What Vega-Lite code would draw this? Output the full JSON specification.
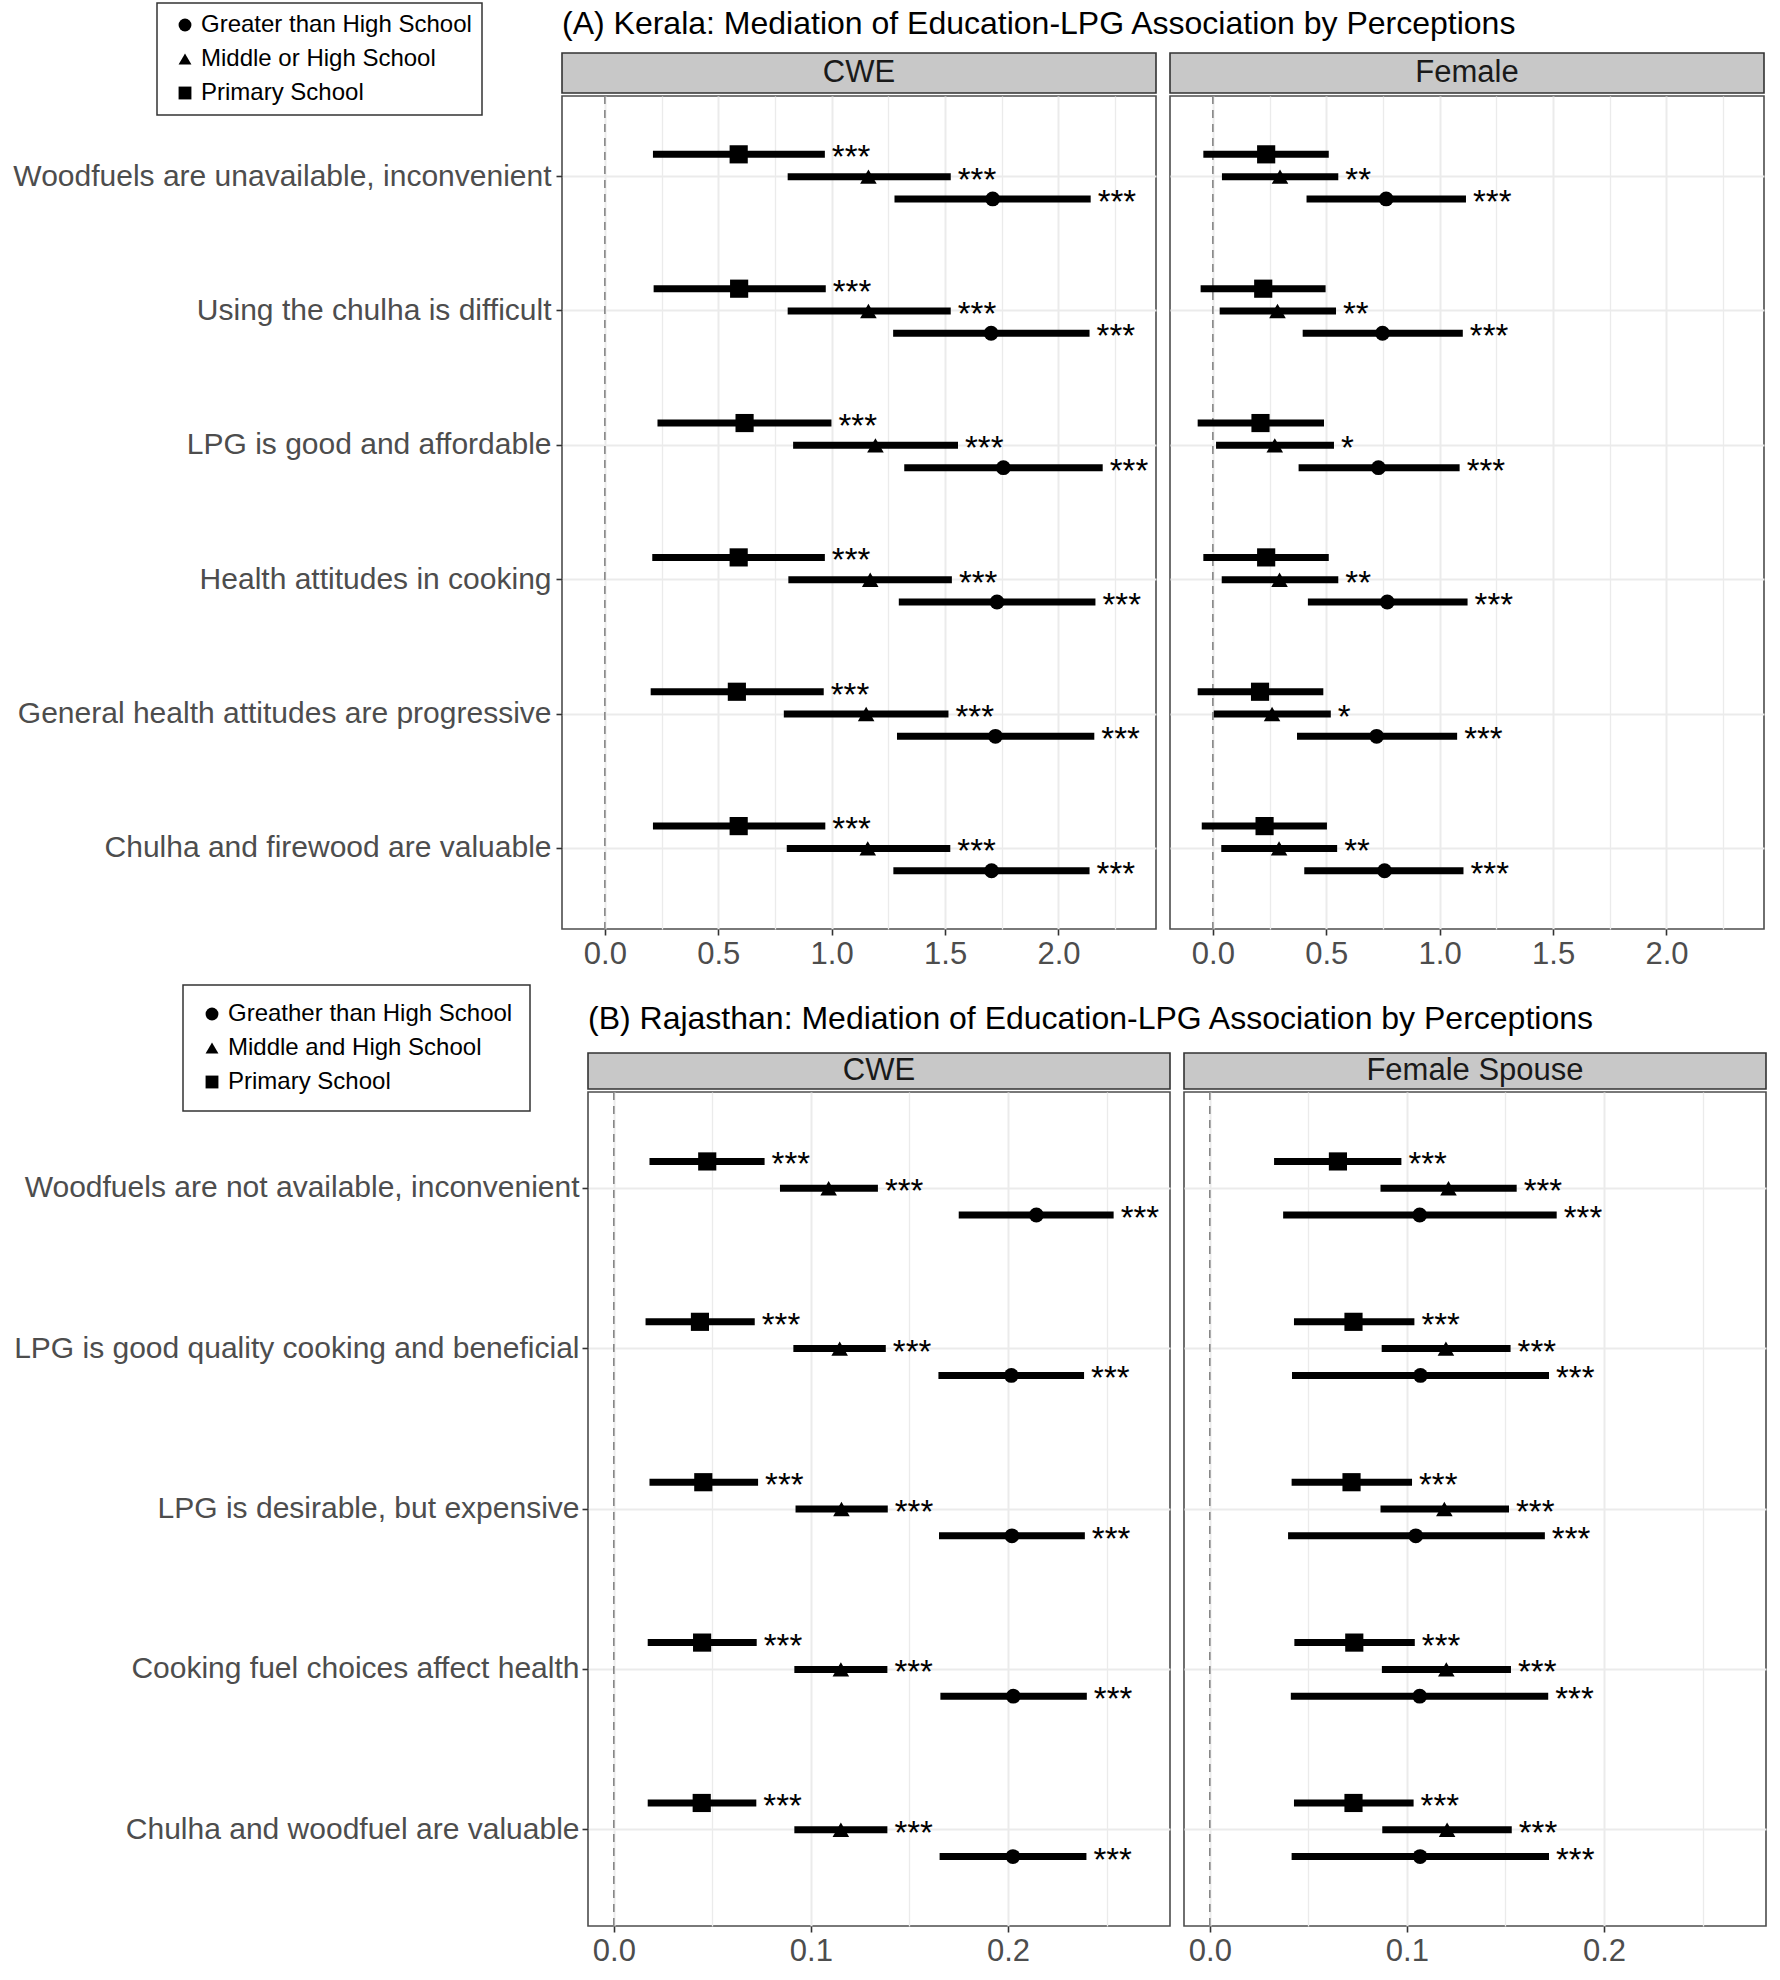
{
  "$schema": "https://vega.github.io/schema/vega-lite/v6.json",
  "background": "white",
  "padding": {"left": 11, "top": 2, "right": 0, "bottom": 0},
  "config": {
    "font": "Liberation Sans",
    "view": {"stroke": "#4D4D4D", "strokeWidth": 1.6},
    "axis": {"labelFont": "Liberation Sans", "labelColor": "#4D4D4D", "tickColor": "#333333", "tickWidth": 1.6, "tickSize": 6, "domain": false, "gridColor": "#EBEBEB", "gridWidth": 2, "labelFlush": false, "labelOverlap": false, "title": null},
    "legend": {"strokeWidth": 1.5, "labelFont": "Liberation Sans"},
    "title": {"font": "Liberation Sans", "fontSize": 32, "fontWeight": "normal", "color": "#000000", "anchor": "start", "frame": "group"}
  },
  "datasets": {
    "strips": [{"panel": "CWE"}, {"panel": "Female"}, {"panel": "Female Spouse"}],
    "zero": [{"z": 0}],
    "kerala": [
      {"panel": "CWE", "perc": "Woodfuels are unavailable, inconvenient", "edu": "Primary School", "est": 0.590, "lo": 0.212, "hi": 0.970, "sig": "***"},
      {"panel": "CWE", "perc": "Woodfuels are unavailable, inconvenient", "edu": "Middle or High School", "est": 1.162, "lo": 0.806, "hi": 1.525, "sig": "***"},
      {"panel": "CWE", "perc": "Woodfuels are unavailable, inconvenient", "edu": "Greater than High School", "est": 1.710, "lo": 1.277, "hi": 2.142, "sig": "***"},
      {"panel": "CWE", "perc": "Using the chulha is difficult", "edu": "Primary School", "est": 0.592, "lo": 0.215, "hi": 0.974, "sig": "***"},
      {"panel": "CWE", "perc": "Using the chulha is difficult", "edu": "Middle or High School", "est": 1.162, "lo": 0.806, "hi": 1.525, "sig": "***"},
      {"panel": "CWE", "perc": "Using the chulha is difficult", "edu": "Greater than High School", "est": 1.703, "lo": 1.271, "hi": 2.137, "sig": "***"},
      {"panel": "CWE", "perc": "LPG is good and affordable", "edu": "Primary School", "est": 0.616, "lo": 0.232, "hi": 0.999, "sig": "***"},
      {"panel": "CWE", "perc": "LPG is good and affordable", "edu": "Middle or High School", "est": 1.193, "lo": 0.830, "hi": 1.557, "sig": "***"},
      {"panel": "CWE", "perc": "LPG is good and affordable", "edu": "Greater than High School", "est": 1.757, "lo": 1.320, "hi": 2.195, "sig": "***"},
      {"panel": "CWE", "perc": "Health attitudes in cooking", "edu": "Primary School", "est": 0.590, "lo": 0.209, "hi": 0.970, "sig": "***"},
      {"panel": "CWE", "perc": "Health attitudes in cooking", "edu": "Middle or High School", "est": 1.170, "lo": 0.809, "hi": 1.530, "sig": "***"},
      {"panel": "CWE", "perc": "Health attitudes in cooking", "edu": "Greater than High School", "est": 1.729, "lo": 1.296, "hi": 2.163, "sig": "***"},
      {"panel": "CWE", "perc": "General health attitudes are progressive", "edu": "Primary School", "est": 0.582, "lo": 0.202, "hi": 0.965, "sig": "***"},
      {"panel": "CWE", "perc": "General health attitudes are progressive", "edu": "Middle or High School", "est": 1.152, "lo": 0.789, "hi": 1.515, "sig": "***"},
      {"panel": "CWE", "perc": "General health attitudes are progressive", "edu": "Greater than High School", "est": 1.722, "lo": 1.288, "hi": 2.158, "sig": "***"},
      {"panel": "CWE", "perc": "Chulha and firewood are valuable", "edu": "Primary School", "est": 0.590, "lo": 0.212, "hi": 0.972, "sig": "***"},
      {"panel": "CWE", "perc": "Chulha and firewood are valuable", "edu": "Middle or High School", "est": 1.159, "lo": 0.802, "hi": 1.523, "sig": "***"},
      {"panel": "CWE", "perc": "Chulha and firewood are valuable", "edu": "Greater than High School", "est": 1.705, "lo": 1.272, "hi": 2.137, "sig": "***"},
      {"panel": "Female", "perc": "Woodfuels are unavailable, inconvenient", "edu": "Primary School", "est": 0.235, "lo": -0.042, "hi": 0.511, "sig": ""},
      {"panel": "Female", "perc": "Woodfuels are unavailable, inconvenient", "edu": "Middle or High School", "est": 0.296, "lo": 0.040, "hi": 0.553, "sig": "**"},
      {"panel": "Female", "perc": "Woodfuels are unavailable, inconvenient", "edu": "Greater than High School", "est": 0.764, "lo": 0.413, "hi": 1.116, "sig": "***"},
      {"panel": "Female", "perc": "Using the chulha is difficult", "edu": "Primary School", "est": 0.222, "lo": -0.054, "hi": 0.497, "sig": ""},
      {"panel": "Female", "perc": "Using the chulha is difficult", "edu": "Middle or High School", "est": 0.285, "lo": 0.030, "hi": 0.543, "sig": "**"},
      {"panel": "Female", "perc": "Using the chulha is difficult", "edu": "Greater than High School", "est": 0.748, "lo": 0.396, "hi": 1.102, "sig": "***"},
      {"panel": "Female", "perc": "LPG is good and affordable", "edu": "Primary School", "est": 0.210, "lo": -0.067, "hi": 0.490, "sig": ""},
      {"panel": "Female", "perc": "LPG is good and affordable", "edu": "Middle or High School", "est": 0.273, "lo": 0.014, "hi": 0.534, "sig": "*"},
      {"panel": "Female", "perc": "LPG is good and affordable", "edu": "Greater than High School", "est": 0.730, "lo": 0.378, "hi": 1.088, "sig": "***"},
      {"panel": "Female", "perc": "Health attitudes in cooking", "edu": "Primary School", "est": 0.235, "lo": -0.042, "hi": 0.511, "sig": ""},
      {"panel": "Female", "perc": "Health attitudes in cooking", "edu": "Middle or High School", "est": 0.294, "lo": 0.039, "hi": 0.553, "sig": "**"},
      {"panel": "Female", "perc": "Health attitudes in cooking", "edu": "Greater than High School", "est": 0.769, "lo": 0.419, "hi": 1.123, "sig": "***"},
      {"panel": "Female", "perc": "General health attitudes are progressive", "edu": "Primary School", "est": 0.208, "lo": -0.067, "hi": 0.487, "sig": ""},
      {"panel": "Female", "perc": "General health attitudes are progressive", "edu": "Middle or High School", "est": 0.261, "lo": 0.004, "hi": 0.520, "sig": "*"},
      {"panel": "Female", "perc": "General health attitudes are progressive", "edu": "Greater than High School", "est": 0.722, "lo": 0.371, "hi": 1.077, "sig": "***"},
      {"panel": "Female", "perc": "Chulha and firewood are valuable", "edu": "Primary School", "est": 0.228, "lo": -0.049, "hi": 0.503, "sig": ""},
      {"panel": "Female", "perc": "Chulha and firewood are valuable", "edu": "Middle or High School", "est": 0.292, "lo": 0.037, "hi": 0.548, "sig": "**"},
      {"panel": "Female", "perc": "Chulha and firewood are valuable", "edu": "Greater than High School", "est": 0.757, "lo": 0.403, "hi": 1.105, "sig": "***"}
    ],
    "rajasthan": [
      {"panel": "CWE", "perc": "Woodfuels are not available, inconvenient", "edu": "Primary School", "est": 0.0474, "lo": 0.0181, "hi": 0.0765, "sig": "***"},
      {"panel": "CWE", "perc": "Woodfuels are not available, inconvenient", "edu": "Middle and High School", "est": 0.109, "lo": 0.0843, "hi": 0.134, "sig": "***"},
      {"panel": "CWE", "perc": "Woodfuels are not available, inconvenient", "edu": "Greather than High School", "est": 0.2144, "lo": 0.175, "hi": 0.2536, "sig": "***"},
      {"panel": "CWE", "perc": "LPG is good quality cooking and beneficial", "edu": "Primary School", "est": 0.0437, "lo": 0.0161, "hi": 0.0715, "sig": "***"},
      {"panel": "CWE", "perc": "LPG is good quality cooking and beneficial", "edu": "Middle and High School", "est": 0.1146, "lo": 0.0911, "hi": 0.138, "sig": "***"},
      {"panel": "CWE", "perc": "LPG is good quality cooking and beneficial", "edu": "Greather than High School", "est": 0.2017, "lo": 0.1647, "hi": 0.2386, "sig": "***"},
      {"panel": "CWE", "perc": "LPG is desirable, but expensive", "edu": "Primary School", "est": 0.0454, "lo": 0.0181, "hi": 0.0732, "sig": "***"},
      {"panel": "CWE", "perc": "LPG is desirable, but expensive", "edu": "Middle and High School", "est": 0.1155, "lo": 0.0922, "hi": 0.139, "sig": "***"},
      {"panel": "CWE", "perc": "LPG is desirable, but expensive", "edu": "Greather than High School", "est": 0.202, "lo": 0.165, "hi": 0.239, "sig": "***"},
      {"panel": "CWE", "perc": "Cooking fuel choices affect health", "edu": "Primary School", "est": 0.0448, "lo": 0.0172, "hi": 0.0725, "sig": "***"},
      {"panel": "CWE", "perc": "Cooking fuel choices affect health", "edu": "Middle and High School", "est": 0.1152, "lo": 0.0916, "hi": 0.1388, "sig": "***"},
      {"panel": "CWE", "perc": "Cooking fuel choices affect health", "edu": "Greather than High School", "est": 0.2027, "lo": 0.1657, "hi": 0.240, "sig": "***"},
      {"panel": "CWE", "perc": "Chulha and woodfuel are valuable", "edu": "Primary School", "est": 0.0446, "lo": 0.0172, "hi": 0.0723, "sig": "***"},
      {"panel": "CWE", "perc": "Chulha and woodfuel are valuable", "edu": "Middle and High School", "est": 0.1152, "lo": 0.0916, "hi": 0.1388, "sig": "***"},
      {"panel": "CWE", "perc": "Chulha and woodfuel are valuable", "edu": "Greather than High School", "est": 0.2025, "lo": 0.1653, "hi": 0.2398, "sig": "***"},
      {"panel": "Female Spouse", "perc": "Woodfuels are not available, inconvenient", "edu": "Primary School", "est": 0.065, "lo": 0.0326, "hi": 0.0972, "sig": "***"},
      {"panel": "Female Spouse", "perc": "Woodfuels are not available, inconvenient", "edu": "Middle and High School", "est": 0.1211, "lo": 0.0866, "hi": 0.1557, "sig": "***"},
      {"panel": "Female Spouse", "perc": "Woodfuels are not available, inconvenient", "edu": "Greather than High School", "est": 0.1065, "lo": 0.0372, "hi": 0.176, "sig": "***"},
      {"panel": "Female Spouse", "perc": "LPG is good quality cooking and beneficial", "edu": "Primary School", "est": 0.0729, "lo": 0.0427, "hi": 0.1038, "sig": "***"},
      {"panel": "Female Spouse", "perc": "LPG is good quality cooking and beneficial", "edu": "Middle and High School", "est": 0.1198, "lo": 0.0872, "hi": 0.1526, "sig": "***"},
      {"panel": "Female Spouse", "perc": "LPG is good quality cooking and beneficial", "edu": "Greather than High School", "est": 0.1069, "lo": 0.0417, "hi": 0.1721, "sig": "***"},
      {"panel": "Female Spouse", "perc": "LPG is desirable, but expensive", "edu": "Primary School", "est": 0.0719, "lo": 0.0415, "hi": 0.1026, "sig": "***"},
      {"panel": "Female Spouse", "perc": "LPG is desirable, but expensive", "edu": "Middle and High School", "est": 0.119, "lo": 0.0866, "hi": 0.1518, "sig": "***"},
      {"panel": "Female Spouse", "perc": "LPG is desirable, but expensive", "edu": "Greather than High School", "est": 0.1045, "lo": 0.0397, "hi": 0.170, "sig": "***"},
      {"panel": "Female Spouse", "perc": "Cooking fuel choices affect health", "edu": "Primary School", "est": 0.0733, "lo": 0.0429, "hi": 0.104, "sig": "***"},
      {"panel": "Female Spouse", "perc": "Cooking fuel choices affect health", "edu": "Middle and High School", "est": 0.120, "lo": 0.0873, "hi": 0.1528, "sig": "***"},
      {"panel": "Female Spouse", "perc": "Cooking fuel choices affect health", "edu": "Greather than High School", "est": 0.1065, "lo": 0.0411, "hi": 0.1717, "sig": "***"},
      {"panel": "Female Spouse", "perc": "Chulha and woodfuel are valuable", "edu": "Primary School", "est": 0.0729, "lo": 0.0427, "hi": 0.1034, "sig": "***"},
      {"panel": "Female Spouse", "perc": "Chulha and woodfuel are valuable", "edu": "Middle and High School", "est": 0.1204, "lo": 0.0875, "hi": 0.1532, "sig": "***"},
      {"panel": "Female Spouse", "perc": "Chulha and woodfuel are valuable", "edu": "Greather than High School", "est": 0.1067, "lo": 0.0415, "hi": 0.1721, "sig": "***"}
    ]
  },
  "columns": 2,
  "align": "none",
  "spacing": {"row": 14, "column": 0},
  "concat": [
    {
      "width": 1, "height": 1,
      "data": {"values": []},
      "view": {"stroke": null, "fill": null},
      "mark": "point"
    },
    {
      "title": {"text": "(A) Kerala: Mediation of Education-LPG Association by Perceptions", "anchor": "start", "frame": "group", "offset": -39},
      "hconcat": [
        {
          "spacing": 0,
          "vconcat": [
            {
              "data": {"name": "strips"},
              "transform": [{"filter": "datum.panel === 'CWE'"}],
              "width": 594, "height": 40,
              "view": {"fill": "#C8C8C8", "stroke": "#333333", "strokeWidth": 1.6},
              "mark": {"type": "text", "fontSize": 31, "color": "#1A1A1A", "baseline": "middle"},
              "encoding": {"text": {"field": "panel", "type": "nominal"}}
            },
            {
              "width": 594, "height": 833,
              "layer": [
                {
                  "data": {"name": "zero"},
                  "mark": {"type": "rule", "color": "#7F7F7F", "strokeWidth": 1.5, "strokeDash": [8, 6]},
                  "encoding": {
                    "x": {"field": "z", "type": "quantitative",
                      "scale": {"domain": [-0.189, 2.43], "nice": false, "zero": false},
                      "axis": {"values": [0, 0.25, 0.5, 0.75, 1, 1.25, 1.5, 1.75, 2, 2.25], "labelExpr": "round(datum.value*100) % 50 === 0 ? format(datum.value, '.1f') : ''", "labelFontSize": 31, "labelPadding": 4, "grid": true,
                        "gridWidth": {"condition": {"test": "round(datum.value*100) % 50 !== 0", "value": 1.3}, "value": 2},
                        "tickOpacity": {"condition": {"test": "round(datum.value*100) % 50 !== 0", "value": 0}, "value": 1}}}
                  }
                },
                {
                  "data": {"name": "kerala"},
                  "transform": [{"filter": "datum.panel === 'CWE'"}],
                  "mark": {"type": "rule", "color": "black", "strokeWidth": 7},
                  "encoding": {
                    "y": {"field": "perc", "type": "nominal", "sort": ["Woodfuels are unavailable, inconvenient", "Using the chulha is difficult", "LPG is good and affordable", "Health attitudes in cooking", "General health attitudes are progressive", "Chulha and firewood are valuable"], "scale": {"type": "band", "paddingInner": 0, "paddingOuter": 0.1},
                      "axis": {"labelFontSize": 30, "labelLimit": 1000, "labelPadding": 5, "grid": true}},
                    "yOffset": {"field": "edu", "type": "nominal", "sort": ["Primary School", "Middle or High School", "Greater than High School"], "scale": {"type": "point", "padding": 0, "range": [44.9, 89.5]}},
                    "x": {"field": "lo", "type": "quantitative"},
                    "x2": {"field": "hi"}
                  }
                },
                {
                  "data": {"name": "kerala"},
                  "transform": [{"filter": "datum.panel === 'CWE'"}],
                  "mark": {"type": "point", "filled": true, "opacity": 1, "color": "black"},
                  "encoding": {
                    "y": {"field": "perc", "type": "nominal", "sort": ["Woodfuels are unavailable, inconvenient", "Using the chulha is difficult", "LPG is good and affordable", "Health attitudes in cooking", "General health attitudes are progressive", "Chulha and firewood are valuable"]},
                    "yOffset": {"field": "edu", "type": "nominal", "sort": ["Primary School", "Middle or High School", "Greater than High School"]},
                    "x": {"field": "est", "type": "quantitative"},
                    "size": {"field": "edu", "type": "nominal", "scale": {"domain": ["Greater than High School", "Middle or High School", "Primary School"], "range": [220, 330, 220]}, "legend": null},
                    "shape": {"field": "edu", "type": "nominal",
                      "scale": {"domain": ["Greater than High School", "Middle or High School", "Primary School"], "range": ["circle", "triangle-up", "square"]},
                      "legend": {"orient": "none", "legendX": -405, "legendY": -50, "title": null, "labelFontSize": 24, "labelColor": "#000000", "labelLimit": 600, "symbolSize": 165, "symbolFillColor": "#000000", "symbolStrokeColor": "#000000", "symbolStrokeWidth": 0, "padding": 10, "symbolOffset": 6, "labelOffset": 4, "rowPadding": 10, "strokeColor": "#333333", "fillColor": "#FFFFFF"}}
                  }
                },
                {
                  "data": {"name": "kerala"},
                  "transform": [{"filter": "datum.panel === 'CWE'"}],
                  "mark": {"type": "text", "align": "left", "baseline": "middle", "dx": 7, "dy": 4, "fontSize": 33, "color": "black"},
                  "encoding": {
                    "y": {"field": "perc", "type": "nominal", "sort": ["Woodfuels are unavailable, inconvenient", "Using the chulha is difficult", "LPG is good and affordable", "Health attitudes in cooking", "General health attitudes are progressive", "Chulha and firewood are valuable"]},
                    "yOffset": {"field": "edu", "type": "nominal", "sort": ["Primary School", "Middle or High School", "Greater than High School"]},
                    "x": {"field": "hi", "type": "quantitative"},
                    "text": {"field": "sig", "type": "nominal"}
                  }
                }
              ]
            }
          ]
        },
        {
          "spacing": 0,
          "vconcat": [
            {
              "data": {"name": "strips"},
              "transform": [{"filter": "datum.panel === 'Female'"}],
              "width": 594, "height": 40,
              "view": {"fill": "#C8C8C8", "stroke": "#333333", "strokeWidth": 1.6},
              "mark": {"type": "text", "fontSize": 31, "color": "#1A1A1A", "baseline": "middle"},
              "encoding": {"text": {"field": "panel", "type": "nominal"}}
            },
            {
              "width": 594, "height": 833,
              "layer": [
                {
                  "data": {"name": "zero"},
                  "mark": {"type": "rule", "color": "#7F7F7F", "strokeWidth": 1.5, "strokeDash": [8, 6]},
                  "encoding": {
                    "x": {"field": "z", "type": "quantitative",
                      "scale": {"domain": [-0.189, 2.43], "nice": false, "zero": false},
                      "axis": {"values": [0, 0.25, 0.5, 0.75, 1, 1.25, 1.5, 1.75, 2, 2.25], "labelExpr": "round(datum.value*100) % 50 === 0 ? format(datum.value, '.1f') : ''", "labelFontSize": 31, "labelPadding": 4, "grid": true,
                        "gridWidth": {"condition": {"test": "round(datum.value*100) % 50 !== 0", "value": 1.3}, "value": 2},
                        "tickOpacity": {"condition": {"test": "round(datum.value*100) % 50 !== 0", "value": 0}, "value": 1}}}
                  }
                },
                {
                  "data": {"name": "kerala"},
                  "transform": [{"filter": "datum.panel === 'Female'"}],
                  "mark": {"type": "rule", "color": "black", "strokeWidth": 7},
                  "encoding": {
                    "y": {"field": "perc", "type": "nominal", "sort": ["Woodfuels are unavailable, inconvenient", "Using the chulha is difficult", "LPG is good and affordable", "Health attitudes in cooking", "General health attitudes are progressive", "Chulha and firewood are valuable"], "scale": {"type": "band", "paddingInner": 0, "paddingOuter": 0.1},
                      "axis": {"labels": false, "ticks": false, "grid": true}},
                    "yOffset": {"field": "edu", "type": "nominal", "sort": ["Primary School", "Middle or High School", "Greater than High School"], "scale": {"type": "point", "padding": 0, "range": [44.9, 89.5]}},
                    "x": {"field": "lo", "type": "quantitative"},
                    "x2": {"field": "hi"}
                  }
                },
                {
                  "data": {"name": "kerala"},
                  "transform": [{"filter": "datum.panel === 'Female'"}],
                  "mark": {"type": "point", "filled": true, "opacity": 1, "color": "black"},
                  "encoding": {
                    "y": {"field": "perc", "type": "nominal", "sort": ["Woodfuels are unavailable, inconvenient", "Using the chulha is difficult", "LPG is good and affordable", "Health attitudes in cooking", "General health attitudes are progressive", "Chulha and firewood are valuable"]},
                    "yOffset": {"field": "edu", "type": "nominal", "sort": ["Primary School", "Middle or High School", "Greater than High School"]},
                    "x": {"field": "est", "type": "quantitative"},
                    "size": {"field": "edu", "type": "nominal", "scale": {"domain": ["Greater than High School", "Middle or High School", "Primary School"], "range": [220, 330, 220]}, "legend": null},
                    "shape": {"field": "edu", "type": "nominal",
                      "scale": {"domain": ["Greater than High School", "Middle or High School", "Primary School"], "range": ["circle", "triangle-up", "square"]},
                      "legend": {"orient": "none", "legendX": -405, "legendY": -50, "title": null, "labelFontSize": 24, "labelColor": "#000000", "labelLimit": 600, "symbolSize": 165, "symbolFillColor": "#000000", "symbolStrokeColor": "#000000", "symbolStrokeWidth": 0, "padding": 10, "symbolOffset": 6, "labelOffset": 4, "rowPadding": 10, "strokeColor": "#333333", "fillColor": "#FFFFFF"}}
                  }
                },
                {
                  "data": {"name": "kerala"},
                  "transform": [{"filter": "datum.panel === 'Female'"}],
                  "mark": {"type": "text", "align": "left", "baseline": "middle", "dx": 7, "dy": 4, "fontSize": 33, "color": "black"},
                  "encoding": {
                    "y": {"field": "perc", "type": "nominal", "sort": ["Woodfuels are unavailable, inconvenient", "Using the chulha is difficult", "LPG is good and affordable", "Health attitudes in cooking", "General health attitudes are progressive", "Chulha and firewood are valuable"]},
                    "yOffset": {"field": "edu", "type": "nominal", "sort": ["Primary School", "Middle or High School", "Greater than High School"]},
                    "x": {"field": "hi", "type": "quantitative"},
                    "text": {"field": "sig", "type": "nominal"}
                  }
                }
              ]
            }
          ]
        }
      ],
      "spacing": 12,
      "resolve": {"scale": {"yOffset": "independent", "size": "independent"}}
    },
    {
      "width": 1, "height": 1,
      "data": {"values": []},
      "view": {"stroke": null, "fill": null},
      "mark": "point"
    },
    {
      "title": {"text": "(B) Rajasthan: Mediation of Education-LPG Association by Perceptions", "anchor": "start", "frame": "group", "offset": -52},
      "hconcat": [
        {
          "spacing": 0,
          "vconcat": [
            {
              "data": {"name": "strips"},
              "transform": [{"filter": "datum.panel === 'CWE'"}],
              "width": 582, "height": 36,
              "view": {"fill": "#C8C8C8", "stroke": "#333333", "strokeWidth": 1.6},
              "mark": {"type": "text", "fontSize": 31, "color": "#1A1A1A", "baseline": "middle"},
              "encoding": {"text": {"field": "panel", "type": "nominal"}}
            },
            {
              "width": 582, "height": 834,
              "layer": [
                {
                  "data": {"name": "zero"},
                  "mark": {"type": "rule", "color": "#7F7F7F", "strokeWidth": 1.5, "strokeDash": [8, 6]},
                  "encoding": {
                    "x": {"field": "z", "type": "quantitative",
                      "scale": {"domain": [-0.0131, 0.2822], "nice": false, "zero": false},
                      "axis": {"values": [0, 0.05, 0.1, 0.15, 0.2, 0.25], "labelExpr": "round(datum.value*100) % 10 === 0 ? format(datum.value, '.1f') : ''", "labelFontSize": 31, "labelPadding": 4, "grid": true,
                        "gridWidth": {"condition": {"test": "round(datum.value*100) % 10 !== 0", "value": 1.3}, "value": 2},
                        "tickOpacity": {"condition": {"test": "round(datum.value*100) % 10 !== 0", "value": 0}, "value": 1}}}
                  }
                },
                {
                  "data": {"name": "rajasthan"},
                  "transform": [{"filter": "datum.panel === 'CWE'"}],
                  "mark": {"type": "rule", "color": "black", "strokeWidth": 7},
                  "encoding": {
                    "y": {"field": "perc", "type": "nominal", "sort": ["Woodfuels are not available, inconvenient", "LPG is good quality cooking and beneficial", "LPG is desirable, but expensive", "Cooking fuel choices affect health", "Chulha and woodfuel are valuable"], "scale": {"type": "band", "paddingInner": 0, "paddingOuter": 0.1},
                      "axis": {"labelFontSize": 30, "labelLimit": 1000, "labelPadding": 3, "grid": true}},
                    "yOffset": {"field": "edu", "type": "nominal", "sort": ["Primary School", "Middle and High School", "Greather than High School"], "scale": {"type": "point", "padding": 0, "range": [53.4, 107.0]}},
                    "x": {"field": "lo", "type": "quantitative"},
                    "x2": {"field": "hi"}
                  }
                },
                {
                  "data": {"name": "rajasthan"},
                  "transform": [{"filter": "datum.panel === 'CWE'"}],
                  "mark": {"type": "point", "filled": true, "opacity": 1, "color": "black"},
                  "encoding": {
                    "y": {"field": "perc", "type": "nominal", "sort": ["Woodfuels are not available, inconvenient", "LPG is good quality cooking and beneficial", "LPG is desirable, but expensive", "Cooking fuel choices affect health", "Chulha and woodfuel are valuable"]},
                    "yOffset": {"field": "edu", "type": "nominal", "sort": ["Primary School", "Middle and High School", "Greather than High School"]},
                    "x": {"field": "est", "type": "quantitative"},
                    "size": {"field": "edu", "type": "nominal", "scale": {"domain": ["Greather than High School", "Middle and High School", "Primary School"], "range": [220, 330, 220]}, "legend": null},
                    "shape": {"field": "edu", "type": "nominal",
                      "scale": {"domain": ["Greather than High School", "Middle and High School", "Primary School"], "range": ["circle", "triangle-up", "square"]},
                      "legend": {"orient": "none", "legendX": -405, "legendY": -68, "title": null, "labelFontSize": 24, "labelColor": "#000000", "labelLimit": 600, "symbolSize": 165, "symbolFillColor": "#000000", "symbolStrokeColor": "#000000", "symbolStrokeWidth": 0, "padding": 17, "symbolOffset": 0, "labelOffset": 4, "rowPadding": 10, "strokeColor": "#333333", "fillColor": "#FFFFFF"}}
                  }
                },
                {
                  "data": {"name": "rajasthan"},
                  "transform": [{"filter": "datum.panel === 'CWE'"}],
                  "mark": {"type": "text", "align": "left", "baseline": "middle", "dx": 7, "dy": 4, "fontSize": 33, "color": "black"},
                  "encoding": {
                    "y": {"field": "perc", "type": "nominal", "sort": ["Woodfuels are not available, inconvenient", "LPG is good quality cooking and beneficial", "LPG is desirable, but expensive", "Cooking fuel choices affect health", "Chulha and woodfuel are valuable"]},
                    "yOffset": {"field": "edu", "type": "nominal", "sort": ["Primary School", "Middle and High School", "Greather than High School"]},
                    "x": {"field": "hi", "type": "quantitative"},
                    "text": {"field": "sig", "type": "nominal"}
                  }
                }
              ]
            }
          ]
        },
        {
          "spacing": 0,
          "vconcat": [
            {
              "data": {"name": "strips"},
              "transform": [{"filter": "datum.panel === 'Female Spouse'"}],
              "width": 582, "height": 36,
              "view": {"fill": "#C8C8C8", "stroke": "#333333", "strokeWidth": 1.6},
              "mark": {"type": "text", "fontSize": 31, "color": "#1A1A1A", "baseline": "middle"},
              "encoding": {"text": {"field": "panel", "type": "nominal"}}
            },
            {
              "width": 582, "height": 834,
              "layer": [
                {
                  "data": {"name": "zero"},
                  "mark": {"type": "rule", "color": "#7F7F7F", "strokeWidth": 1.5, "strokeDash": [8, 6]},
                  "encoding": {
                    "x": {"field": "z", "type": "quantitative",
                      "scale": {"domain": [-0.0131, 0.2822], "nice": false, "zero": false},
                      "axis": {"values": [0, 0.05, 0.1, 0.15, 0.2, 0.25], "labelExpr": "round(datum.value*100) % 10 === 0 ? format(datum.value, '.1f') : ''", "labelFontSize": 31, "labelPadding": 4, "grid": true,
                        "gridWidth": {"condition": {"test": "round(datum.value*100) % 10 !== 0", "value": 1.3}, "value": 2},
                        "tickOpacity": {"condition": {"test": "round(datum.value*100) % 10 !== 0", "value": 0}, "value": 1}}}
                  }
                },
                {
                  "data": {"name": "rajasthan"},
                  "transform": [{"filter": "datum.panel === 'Female Spouse'"}],
                  "mark": {"type": "rule", "color": "black", "strokeWidth": 7},
                  "encoding": {
                    "y": {"field": "perc", "type": "nominal", "sort": ["Woodfuels are not available, inconvenient", "LPG is good quality cooking and beneficial", "LPG is desirable, but expensive", "Cooking fuel choices affect health", "Chulha and woodfuel are valuable"], "scale": {"type": "band", "paddingInner": 0, "paddingOuter": 0.1},
                      "axis": {"labels": false, "ticks": false, "grid": true}},
                    "yOffset": {"field": "edu", "type": "nominal", "sort": ["Primary School", "Middle and High School", "Greather than High School"], "scale": {"type": "point", "padding": 0, "range": [53.4, 107.0]}},
                    "x": {"field": "lo", "type": "quantitative"},
                    "x2": {"field": "hi"}
                  }
                },
                {
                  "data": {"name": "rajasthan"},
                  "transform": [{"filter": "datum.panel === 'Female Spouse'"}],
                  "mark": {"type": "point", "filled": true, "opacity": 1, "color": "black"},
                  "encoding": {
                    "y": {"field": "perc", "type": "nominal", "sort": ["Woodfuels are not available, inconvenient", "LPG is good quality cooking and beneficial", "LPG is desirable, but expensive", "Cooking fuel choices affect health", "Chulha and woodfuel are valuable"]},
                    "yOffset": {"field": "edu", "type": "nominal", "sort": ["Primary School", "Middle and High School", "Greather than High School"]},
                    "x": {"field": "est", "type": "quantitative"},
                    "size": {"field": "edu", "type": "nominal", "scale": {"domain": ["Greather than High School", "Middle and High School", "Primary School"], "range": [220, 330, 220]}, "legend": null},
                    "shape": {"field": "edu", "type": "nominal",
                      "scale": {"domain": ["Greather than High School", "Middle and High School", "Primary School"], "range": ["circle", "triangle-up", "square"]},
                      "legend": {"orient": "none", "legendX": -405, "legendY": -68, "title": null, "labelFontSize": 24, "labelColor": "#000000", "labelLimit": 600, "symbolSize": 165, "symbolFillColor": "#000000", "symbolStrokeColor": "#000000", "symbolStrokeWidth": 0, "padding": 17, "symbolOffset": 0, "labelOffset": 4, "rowPadding": 10, "strokeColor": "#333333", "fillColor": "#FFFFFF"}}
                  }
                },
                {
                  "data": {"name": "rajasthan"},
                  "transform": [{"filter": "datum.panel === 'Female Spouse'"}],
                  "mark": {"type": "text", "align": "left", "baseline": "middle", "dx": 7, "dy": 4, "fontSize": 33, "color": "black"},
                  "encoding": {
                    "y": {"field": "perc", "type": "nominal", "sort": ["Woodfuels are not available, inconvenient", "LPG is good quality cooking and beneficial", "LPG is desirable, but expensive", "Cooking fuel choices affect health", "Chulha and woodfuel are valuable"]},
                    "yOffset": {"field": "edu", "type": "nominal", "sort": ["Primary School", "Middle and High School", "Greather than High School"]},
                    "x": {"field": "hi", "type": "quantitative"},
                    "text": {"field": "sig", "type": "nominal"}
                  }
                }
              ]
            }
          ]
        }
      ],
      "spacing": 12,
      "resolve": {"scale": {"yOffset": "independent", "size": "independent"}}
    }
  ],
  "resolve": {"scale": {"shape": "independent", "yOffset": "independent", "size": "independent"}, "legend": {"shape": "independent", "size": "independent"}}
}
